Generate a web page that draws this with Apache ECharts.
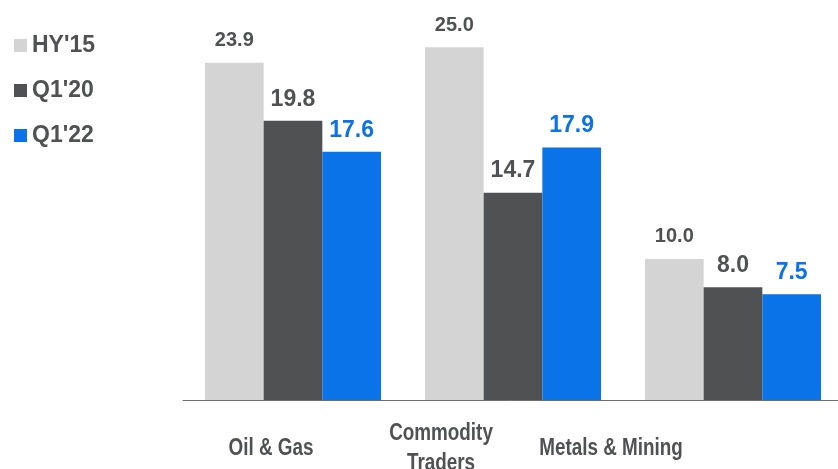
<!DOCTYPE html>
<html>
<head>
<meta charset="utf-8">
<script src="https://cdn.jsdelivr.net/npm/echarts@6/dist/echarts.min.js"></script>
<style>
  html, body { margin: 0; padding: 0; background: #ffffff; }
  #chart { width: 838px; height: 469px; }
</style>
</head>
<body>
<div id="chart"></div>
<script>
// Sector categories and values per period
const categories = ['Oil & Gas', 'Commodity\nTraders', 'Metals & Mining'];
const seriesNames = ["HY'15", "Q1'20", "Q1'22"];
const hy15 = [23.9, 25.0, 10.0];
const q120 = [19.8, 14.7, 8.0];
const q122 = [17.6, 17.9, 7.5];

const colors = ['#d4d4d4', '#505153', '#0a73e8'];
const labelColors = ['#505153', '#505153', '#0a73e8'];
const labelSizes = [20, 23, 23];
const labelDistances = [12, 10, 10];
const textGrey = '#505153';
const fontFamily = 'Arial, "Liberation Sans", Helvetica, sans-serif';

const chart = echarts.init(document.getElementById('chart'), null, { renderer: 'canvas' });

const valueSets = [hy15, q120, q122];

const option = {
  animation: false,
  backgroundColor: '#ffffff',
  textStyle: { fontFamily: fontFamily },
  legend: {
    orient: 'vertical',
    left: 14,
    top: 34,
    padding: 0,
    itemWidth: 13,
    itemHeight: 13,
    itemGap: 22,
    icon: 'rect',
    data: seriesNames,
    textStyle: {
      fontFamily: fontFamily,
      fontSize: 23,
      fontWeight: 'bold',
      color: textGrey,
      padding: [0, 0, 0, 0],
      lineHeight: 23
    },
    selectedMode: false
  },
  grid: [
    { left: 183, width: 660, top: 5, bottom: 69, containLabel: false, outerBoundsMode: 'none' },
    { left: 186, right: 142, top: 5, bottom: 69, containLabel: false, outerBoundsMode: 'none' }
  ],
  xAxis: [
    {
      type: 'category',
      gridIndex: 0,
      data: categories,
      axisLine: { show: true, lineStyle: { color: '#6e6e6e', width: 1 } },
      axisTick: { show: false },
      axisLabel: { show: false }
    },
    {
      // positioning axis for the sector names (labels drawn condensed below)
      type: 'category',
      gridIndex: 1,
      data: categories,
      axisLine: { show: false },
      axisTick: { show: false },
      axisLabel: { show: false }
    }
  ],
  yAxis: [
    { type: 'value', gridIndex: 0, min: 0, max: 28, show: false },
    { type: 'value', gridIndex: 1, min: 0, max: 28, show: false }
  ],
  series: seriesNames.map((name, i) => ({
    name: name,
    type: 'bar',
    xAxisIndex: 0,
    yAxisIndex: 0,
    data: valueSets[i],
    barGap: '0%',
    barCategoryGap: '20%',
    itemStyle: { color: colors[i] },
    label: {
      show: true,
      position: 'top',
      distance: labelDistances[i],
      formatter: p => p.value.toFixed(1),
      fontFamily: fontFamily,
      fontSize: labelSizes[i],
      fontWeight: 'bold',
      color: labelColors[i]
    }
  }))
};

chart.setOption(option);

// Sector names in a condensed bold face, centred on the label axis positions
const labelOffset = 49;
const baseY = chart.convertToPixel({ yAxisIndex: 1 }, 0);
chart.setOption({
  graphic: categories.map((name, i) => ({
    type: 'text',
    x: chart.convertToPixel({ xAxisIndex: 1 }, i),
    y: baseY + labelOffset,
    scaleX: 0.82,
    silent: true,
    style: {
      text: name,
      x: 0,
      y: 0,
      align: 'center',
      verticalAlign: 'middle',
      font: 'bold 23px ' + fontFamily,
      lineHeight: 30,
      fill: textGrey
    }
  }))
});
</script>
</body>
</html>
